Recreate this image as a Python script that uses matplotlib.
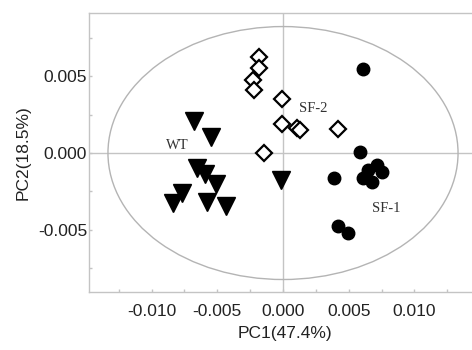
import numpy as np
import matplotlib
matplotlib.use("Agg")
import matplotlib.pyplot as plt
from matplotlib.patches import Ellipse
from matplotlib.ticker import MultipleLocator, FixedLocator, FormatStrFormatter

# datos (PC1, PC2)
wt_x = [-0.00680, -0.00550, -0.00657, -0.00594, -0.00510, -0.00769, -0.00837, -0.00581, -0.00434, -0.00015]
wt_y = [0.00211, 0.00102, -0.00100, -0.00137, -0.00202, -0.00264, -0.00326, -0.00318, -0.00343, -0.00176]

sf1_x = [0.00611, 0.00586, 0.00713, 0.00751, 0.00649, 0.00611, 0.00675, 0.00390, 0.00421, 0.00492]
sf1_y = [0.00548, 0.00005, -0.00078, -0.00122, -0.00111, -0.00165, -0.00187, -0.00165, -0.00476, -0.00520]

sf2_x = [-0.00180, -0.00180, -0.00226, -0.00221, -0.00008, -0.00010, 0.00107, 0.00129, 0.00415, -0.00145]
sf2_y = [0.00627, 0.00553, 0.00477, 0.00411, 0.00351, 0.00187, 0.00165, 0.00148, 0.00157, 0.00002]

x_ticks = [-0.010, -0.005, 0.000, 0.005, 0.010]
y_ticks = [-0.005, 0.000, 0.005]

gris = "#c4c4c4"

fig = plt.figure(figsize=(4.72, 3.5), dpi=100)
ax = fig.add_axes([0.1892, 0.1666, 0.828, 0.7954])
ax.set_xlim(-0.01474, 0.0150)
ax.set_ylim(-0.00905, 0.00912)

# ejes en cero y elipse de confianza
ax.axhline(0, color=gris, lw=1, zorder=1)
ax.axvline(0, color=gris, lw=1, zorder=1)
ax.add_patch(Ellipse((0, 0), 0.02664, 0.01651, fill=False, ec="#b4b4b4", lw=1, zorder=1))

ax.plot(wt_x, wt_y, "v", color="black", ms=13, ls="none", zorder=3)
ax.plot(sf1_x, sf1_y, "o", color="black", ms=9, ls="none", zorder=3)
ax.plot(sf2_x, sf2_y, "D", mfc="white", mec="black", mew=1.6, ms=8, ls="none", zorder=3)

fuente = dict(family="Liberation Serif", fontsize=10.5, color="#333333", ha="center", va="center")
ax.text(-0.00803, 0.00052, "WT", **fuente)
ax.text(0.00231, 0.00292, "SF-2", **fuente)
ax.text(0.00789, -0.00361, "SF-1", **fuente)

for lado in ["top", "left", "bottom"]:
    ax.spines[lado].set_color(gris)
    ax.spines[lado].set_linewidth(1)
ax.spines["right"].set_visible(False)

ax.xaxis.set_major_locator(FixedLocator(x_ticks))
ax.xaxis.set_minor_locator(MultipleLocator(0.0025))
ax.yaxis.set_major_locator(FixedLocator(y_ticks))
ax.yaxis.set_minor_locator(MultipleLocator(0.0025))
ax.xaxis.set_major_formatter(FormatStrFormatter("%.3f"))
ax.yaxis.set_major_formatter(FormatStrFormatter("%.3f"))
ax.tick_params(which="both", direction="in", length=2.5, color=gris, width=1)
ax.tick_params(axis="x", which="major", pad=9, labelsize=12.5)
ax.tick_params(axis="y", which="major", pad=1.5, labelsize=12.5)

for t in ax.get_xticklabels() + ax.get_yticklabels():
    t.set_family("Liberation Sans")
    t.set_color("#222222")

ax.set_xlabel("PC1(47.4%)", fontsize=12.5, family="Liberation Sans", color="#222222", labelpad=5)
ax.set_ylabel("PC2(18.5%)", fontsize=12.5, family="Liberation Sans", color="#222222", labelpad=5)

fig.savefig("out.png", dpi=100)
